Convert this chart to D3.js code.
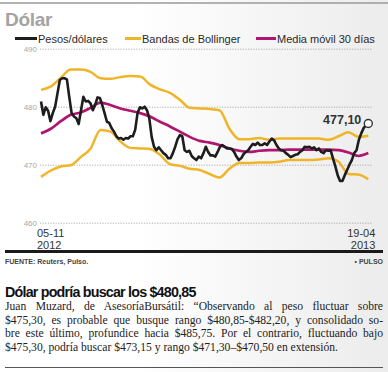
<!DOCTYPE html>
<html><head><meta charset="utf-8">
<script src="https://cdn.jsdelivr.net/npm/d3@7"></script>
<style>
html,body{margin:0;padding:0;width:388px;height:372px;overflow:hidden;}
body{background:linear-gradient(90deg,#ffffff 0%,#ffffff 35%,#ececec 100%);position:relative;font-family:"Liberation Sans",Arial,sans-serif;}
svg{position:absolute;left:0;top:0;}
#txt{position:absolute;left:5px;top:284px;width:378px;}
#txt h2{margin:0;font:bold 14.3px "Liberation Sans",Arial,sans-serif;letter-spacing:-0.8px;color:#111;line-height:16px;}
#txt .l{font:11.6px "Liberation Serif","DejaVu Serif",serif;color:#222;line-height:13.7px;text-align:justify;text-align-last:justify;white-space:nowrap;}
#txt .last{text-align-last:left;}
</style></head>
<body>
<div id="chart"></div>
<div id="txt"></div>
<script>
const title = "Dólar";
const legendLabels = ["Pesos/dólares", "Bandas de Bollinger", "Media móvil 30 días"];
const yTicks = [460, 470, 480, 490];
const xLabels = [["05-11","2012"],["19-04","2013"]];
const lastLabel = "477,10";
const pesos = [480.9,478.6,479.9,479.3,477.5,478.9,480.0,482.3,484.6,484.9,
484.9,484.7,481.7,478.9,478.3,478.0,477.0,479.4,481.7,480.9,
481.0,480.6,479.4,480.3,481.6,481.5,480.3,478.9,477.4,477.2,
476.3,475.7,474.9,474.5,474.6,474.3,474.6,474.5,474.9,474.9,
476.0,478.9,479.9,479.7,480.0,479.4,478.0,474.8,473.1,472.5,
473.0,472.5,472.0,471.7,471.1,471.1,472.0,473.1,474.4,475.1,
474.9,472.5,472.2,472.4,471.5,
471.1,470.8,471.4,471.1,472.0,473.1,472.2,471.6,471.6,471.4,
472.2,473.1,473.4,473.1,472.8,472.8,472.7,472.2,471.4,470.8,
471.1,471.8,472.2,472.5,473.1,473.6,473.4,473.8,473.4,473.4,
473.7,473.4,474.0,474.5,474.2,473.4,472.8,472.5,472.4,472.0,
471.7,471.3,471.5,471.7,471.8,472.2,472.5,473.1,473.0,473.1,
472.8,473.0,472.5,472.8,472.2,472.0,472.5,472.4,472.5,471.1,
469.7,468.2,467.2,467.2,468.2,469.1,470.0,470.8,472.0,472.5,
474.3,475.4,476.3,476.8,477.1];
const upperBand = [482.9,483.5,485.0,486.4,486.4,486.0,484.9,484.8,485.1,485.3,
485.2,483.8,483.0,482.4,481.2,479.8,479.7,479.6,479.4,476.2,
474.4,474.4,474.6,474.3,474.5,474.5,474.5,474.5,474.5,474.3,
474.9,475.6,474.8,475.0];
const lowerBand = [467.9,469.0,469.7,469.9,471.3,472.8,476.0,475.7,474.0,472.9,
472.8,472.7,471.7,470.1,469.8,469.3,469.1,468.4,467.8,469.3,
470.3,470.3,470.4,470.4,470.5,470.8,470.8,470.8,470.9,471.1,
470.5,468.4,468.3,467.5];
const movingAvg = [475.4,476.2,477.5,478.6,479.0,479.8,480.7,480.3,479.7,479.3,
478.9,478.3,477.4,476.6,475.7,474.8,474.1,473.8,473.4,472.8,
472.4,472.2,472.4,472.5,472.5,472.6,472.6,472.6,472.6,472.6,
472.5,472.1,471.5,472.0];
const source = "FUENTE: Reuters, Pulso.";
const brand = "• PULSO";
const heading = "Dólar podría buscar los $480,85";
const paraLines = [
 "Juan Muzard, de AsesoríaBursátil: “Observando al peso fluctuar sobre",
 "$475,30, es probable que busque rango $480,85-$482,20, y consolidado so-",
 "bre este último, profundice hacia $485,75. Por el contrario, fluctuando bajo",
 "$475,30, podría buscar $473,15 y rango $471,30–$470,50 en extensión."
];

const colors = {pesos:"#1d1d1d", band:"#f0b428", ma:"#b0166e"};
const W = 388, H = 372;
const svg = d3.select("#chart").append("svg").attr("width",W).attr("height",H);

// top rule
svg.append("line").attr("x1",0).attr("x2",W).attr("y1",3).attr("y2",3).attr("stroke","#9a9a9a").attr("stroke-width",1.5);
svg.append("text").attr("x",5).attr("y",26).text(title)
  .attr("font-family","Liberation Sans, Arial, sans-serif").attr("font-weight","bold").attr("font-size",19)
  .attr("fill","#a3a3a3").attr("letter-spacing",-0.3);

// legend
const legX = [15, 125, 256], legW = [22, 16, 20];
legendLabels.forEach((t,i)=>{
  const c = [colors.pesos, colors.band, colors.ma][i];
  svg.append("line").attr("x1",legX[i]).attr("x2",legX[i]+legW[i]).attr("y1",38.5).attr("y2",38.5)
    .attr("stroke",c).attr("stroke-width",3);
  svg.append("text").attr("x",legX[i]+legW[i]+1).attr("y",42.5).text(t)
    .attr("font-family","Liberation Sans, Arial, sans-serif").attr("font-size",11).attr("fill","#2a2a2a");
});

const y = d3.scaleLinear().domain([460,490]).range([222.7,48.7]);
const x = d3.scaleLinear().domain([0,pesos.length-1]).range([41,368.3]);
const xb = d3.scaleLinear().domain([0,upperBand.length-1]).range([41,368.3]);

// grid
const yAxis = d3.axisLeft(y).tickValues(yTicks).tickSize(-332).tickPadding(3).tickFormat(d3.format("d"));
const gy = svg.append("g").attr("transform","translate(40,0)").call(yAxis);
gy.select(".domain").remove();
gy.selectAll(".tick line").attr("stroke","#9a9a9a").attr("stroke-width",0.8).attr("stroke-dasharray","1.2,1.4");
gy.selectAll(".tick text").attr("font-family","Liberation Sans, Arial, sans-serif").attr("font-size",8).attr("fill","#a8a8a8");

const lineB = d3.line().x((d,i)=>xb(i)).y(d=>y(d)).curve(d3.curveMonotoneX);
svg.append("path").datum(upperBand).attr("d",lineB).attr("fill","none").attr("stroke",colors.band).attr("stroke-width",2.5);
svg.append("path").datum(lowerBand).attr("d",lineB).attr("fill","none").attr("stroke",colors.band).attr("stroke-width",2.5);
svg.append("path").datum(movingAvg).attr("d",lineB).attr("fill","none").attr("stroke",colors.ma).attr("stroke-width",2.7);
const lineP = d3.line().x((d,i)=>x(i)).y(d=>y(d));
svg.append("path").datum(pesos).attr("d",lineP).attr("fill","none").attr("stroke",colors.pesos)
  .attr("stroke-width",2.6).attr("stroke-linejoin","round");

const li = pesos.length-1;
svg.append("circle").attr("cx",x(li)).attr("cy",y(pesos[li])).attr("r",4)
  .attr("fill","#fff").attr("stroke","#333").attr("stroke-width",1.4);
svg.append("text").attr("x",x(li)-7).attr("y",y(pesos[li])).attr("text-anchor","end").text(lastLabel)
  .attr("font-family","Liberation Sans, Arial, sans-serif").attr("font-weight","bold").attr("font-size",12.5).attr("fill","#333");

// x labels
xLabels.forEach((lab,i)=>{
  const xi = i===0 ? x(0)-4 : x(li)+7;
  const anchor = i===0 ? "start" : "end";
  lab.forEach((t,j)=>{
    svg.append("text").attr("x",xi).attr("y",237+j*11.5).attr("text-anchor",anchor).text(t)
      .attr("font-family","Liberation Sans, Arial, sans-serif").attr("font-size",11).attr("fill","#333");
  });
});

// footer rule
svg.append("line").attr("x1",5).attr("x2",383).attr("y1",251.5).attr("y2",251.5).attr("stroke","#1a1a1a").attr("stroke-width",3);
svg.append("text").attr("x",5).attr("y",264).text(source)
  .attr("font-family","Liberation Sans, Arial, sans-serif").attr("font-weight","bold").attr("font-size",7).attr("fill","#444");
svg.append("text").attr("x",383).attr("y",264).attr("text-anchor","end").text(brand)
  .attr("font-family","Liberation Sans, Arial, sans-serif").attr("font-weight","bold").attr("font-size",7).attr("fill","#444");
svg.append("line").attr("x1",5).attr("x2",383).attr("y1",367.5).attr("y2",367.5).attr("stroke","#555").attr("stroke-width",1);

const txt = d3.select("#txt");
txt.append("h2").text(heading);
paraLines.forEach((t,i)=>{
  txt.append("div").attr("class","l"+(i===paraLines.length-1?" last":"")).text(t);
});
</script>
</body></html>
